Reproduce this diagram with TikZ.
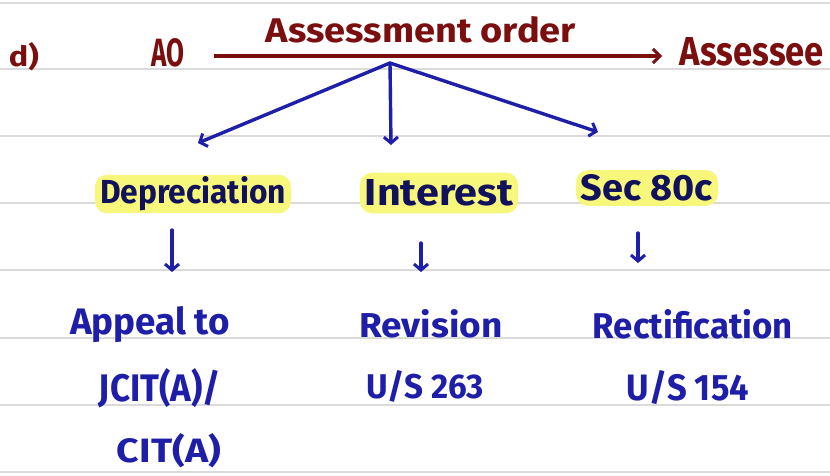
\documentclass[tikz,border=0pt]{standalone}
\usepackage{fontspec}
\setmainfont{Fira Sans}
\usetikzlibrary{arrows.meta}
\definecolor{inkred}{HTML}{7B0E0E}
\definecolor{inkblue}{HTML}{1E1EA8}
\definecolor{inknavy}{HTML}{12125C}
\definecolor{marker}{HTML}{F7F77C}
\definecolor{ruleline}{HTML}{DADADA}
% handwritten-size text: scaled to a given width and height in pt
\newcommand{\hw}[3]{\resizebox{#1pt}{#2pt}{#3}}
\begin{document}
\begin{tikzpicture}[x=1pt,y=-1pt,
  lbl/.style={inner sep=0pt, anchor=center},
  redtxt/.style={lbl,text=inkred,font=\bfseries},
  bluetxt/.style={lbl,text=inkblue,font=\bfseries},
  navytxt/.style={lbl,text=inknavy,font=\bfseries,fill=marker,rounded corners=12pt,inner xsep=5pt},
  redarrow/.style={draw=inkred, line width=4pt, -{Straight Barb[length=7pt,width=14pt,line width=3pt]}},
  bluearrow/.style={draw=inkblue, line width=3.4pt, line cap=round, -{Straight Barb[length=6pt,width=14pt,line width=3pt]}},
  rulestyle/.style={draw=ruleline, line width=1.6pt},
]
% page background and ruled lines
\fill[white] (0,0) rectangle (830,475);
\useasboundingbox (0,0) rectangle (830,475);
\foreach \yy in {3,69,136,203,270,338,405,472}
  \draw[rulestyle] (0,\yy) -- (830,\yy);

% top row
\node[redtxt] (d) at (24,57) {\hw{30}{24}{d)}};
\node[redtxt] (ao) at (168,53) {\hw{33}{28}{AO}};
\node[redtxt] (order) at (421,30) {\hw{310}{26}{Assessment order}};
\node[redtxt] (assessee) at (752,52) {\hw{144}{28}{Assessee}};
\coordinate (aostart) at (214,56);
\coordinate (aoend) at (662,56);
\draw[redarrow] (aostart) -- (aoend);

% fan of branches
\coordinate (hub) at (390,63);
\coordinate (tipL) at (198,143);
\coordinate (tipM) at (391,145);
\coordinate (tipR) at (598,132);
\draw[bluearrow] (hub) -- (tipL);
\draw[bluearrow] (hub) -- (tipM);
\draw[bluearrow] (hub) -- (tipR);

% highlighted headings
\node[navytxt,inner ysep=2pt] (dep) at (193,194) {\hw{186}{27}{Depreciation}};
\node[navytxt,inner ysep=7pt] (int) at (439,193) {\hw{148}{26}{Interest}};
\node[navytxt,inner ysep=4.5pt] (sec) at (647,188) {\hw{132}{26}{Sec 80c}};

% short down arrows
\coordinate (dA) at (172,230);
\coordinate (dB) at (172,272);
\coordinate (iA) at (421,243);
\coordinate (iB) at (421,272);
\coordinate (sA) at (638,233);
\coordinate (sB) at (638,263);
\draw[bluearrow] (dA) -- (dB);
\draw[bluearrow] (iA) -- (iB);
\draw[bluearrow] (sA) -- (sB);

% remedies
\node[bluetxt] (appeal) at (150,325) {\hw{160}{28}{Appeal to}};
\node[bluetxt] (jcit) at (160,388) {\hw{122}{33}{JCIT(A)/}};
\node[bluetxt] (cit) at (169,451) {\hw{104}{29}{CIT(A)}};
\node[bluetxt] (rev) at (431,324) {\hw{143}{28}{Revision}};
\node[bluetxt] (rev263) at (425,386) {\hw{118}{28}{U/S 263}};
\node[bluetxt] (rect) at (693,324) {\hw{200}{29}{Rectification}};
\node[bluetxt] (rect154) at (688,388) {\hw{122}{30}{U/S 154}};
\end{tikzpicture}
\end{document}
